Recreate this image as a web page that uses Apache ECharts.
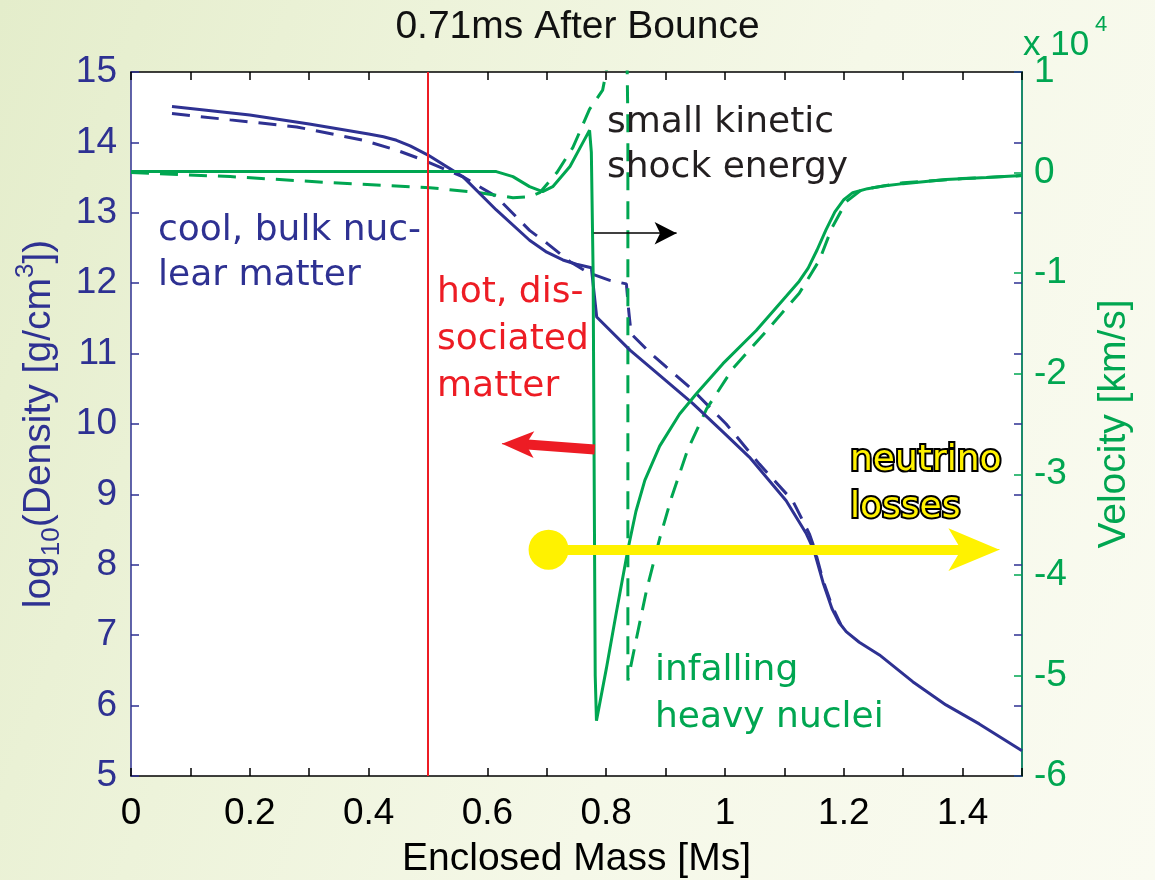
<!DOCTYPE html>
<html><head><meta charset="utf-8">
<script src="https://cdn.jsdelivr.net/npm/echarts@6/dist/echarts.min.js"></script>
<style>
html,body{margin:0;padding:0;width:1155px;height:880px;overflow:hidden;}
body{background:linear-gradient(110deg,#e4edcb 0%,#edf3da 30%,#f5f8e8 60%,#fafbf1 100%);}
#chart{width:1155px;height:880px;}
</style></head><body><div id="chart"></div>
<script>
// ---- data (mass in Msun, density log10 g/cm3, velocity in 1e4 km/s) ----
const titleText = '0.71ms After Bounce';
const xName = 'Enclosed Mass [Ms]';
const massRange = [0, 1.5];
const densityRange = [5, 15];
const velocityRange = [-6, 1];

const densitySolid = [
  [0.069,14.51],[0.2,14.39],[0.3,14.26],[0.4,14.12],[0.425,14.08],[0.447,14.03],[0.47,13.95],[0.5,13.82],
  [0.559,13.51],[0.615,13.04],[0.671,12.61],[0.7,12.44],[0.727,12.33],[0.75,12.27],[0.775,12.22],[0.784,11.52],
  [0.84,11.05],[0.9,10.62],[0.946,10.29],[1.0,9.86],[1.041,9.53],[1.103,8.91],[1.137,8.44],
  [1.15,8.2],[1.165,7.75],[1.18,7.38],[1.192,7.18],[1.204,7.05],[1.226,6.9],[1.26,6.72],
  [1.316,6.34],[1.372,6.01],[1.428,5.74],[1.5,5.36]
];
const densityDashed = [
  [0.069,14.41],[0.167,14.32],[0.279,14.22],[0.391,14.03],[0.447,13.89],[0.492,13.75],[0.559,13.51],
  [0.615,13.23],[0.671,12.75],[0.7,12.57],[0.74,12.3],[0.77,12.15],[0.806,12.04],[0.834,11.99],
  [0.838,11.6],[0.842,11.28],[0.873,11.02],[0.901,10.81],[0.946,10.48],[1.002,10.0],[1.058,9.43],
  [1.114,8.91],[1.142,8.44],[1.15,8.25],[1.165,7.78],[1.18,7.42],[1.195,7.15]
];
const velocitySolid = [
  [0,0.01],[0.2,0.01],[0.4,0.01],[0.6,0.01],[0.615,0.01],[0.643,-0.04],[0.671,-0.14],[0.693,-0.19],
  [0.71,-0.14],[0.739,0.06],[0.76,0.29],[0.772,0.42],[0.775,0.2],[0.778,-1.0],[0.7815,-5.0],
  [0.7836,-5.45],[0.8003,-4.93],[0.8172,-4.37],[0.8368,-3.74],[0.85,-3.37],[0.865,-3.06],[0.89,-2.72],
  [0.9236,-2.4],[0.9518,-2.2],[0.9965,-1.9],[1.0526,-1.57],[1.103,-1.23],[1.125,-1.08],[1.14,-0.95],
  [1.155,-0.77],[1.17,-0.57],[1.185,-0.39],[1.2,-0.27],[1.215,-0.2],[1.24,-0.16],[1.27,-0.13],[1.3,-0.11],
  [1.372,-0.07],[1.44,-0.05],[1.5,-0.03]
];
const velocityDashed = [
  [0,0.0],[0.167,-0.04],[0.335,-0.1],[0.503,-0.15],[0.587,-0.2],[0.643,-0.25],[0.671,-0.24],
  [0.688,-0.2],[0.717,0.0],[0.744,0.25],[0.772,0.63],[0.794,0.82],[0.8,1.0],[0.815,1.6],
  [0.834,1.6],[0.8365,0.5],[0.8365,-5.05],[0.851,-4.63],[0.868,-4.15],[0.89,-3.64],[0.91,-3.23],
  [0.937,-2.76],[0.969,-2.35],[1.013,-1.95],[1.069,-1.58],[1.125,-1.2],[1.159,-0.87],[1.18,-0.55],
  [1.204,-0.29],[1.23,-0.17],[1.3,-0.1],[1.4,-0.06],[1.5,-0.03]
];
// annotation anchors in data coords [mass, density]
const redLineMass = 0.5;
const shockArrow = [[0.779,12.71],[0.9185,12.71]];
const retreatShaft = [[0.7807,9.637],[0.6563,9.715]];
const retreatHead = [[0.665,9.711],[0.6245,9.72]];
const neutrinoShaft = [[0.703,8.215],[1.4096,8.215]];
const neutrinoHead = [[1.40,8.215],[1.462,8.215]];

const BLUE = '#2e3192', GREEN = '#00a651', RED = '#ed1c24', TEAL = '#1b8a6b', YELLOW = '#fff200';
const FONT = '"Liberation Sans", Arial, sans-serif';
const HAND = '"Comic Sans MS", "DejaVu Sans", sans-serif';

const chart = echarts.init(document.getElementById('chart'));
const tickFont = 37;
const nameFont = 39;
function seg(a, b, color, width, headSize) {
  return [
    { coord: a, symbol: 'none', lineStyle: { color: color, width: width, type: 'solid', cap: 'butt' } },
    { coord: b, symbol: headSize ? 'arrow' : 'none', symbolSize: headSize || 0 }
  ];
}
chart.setOption({
  backgroundColor: 'transparent',
  animation: false,
  title: { text: titleText, left: 'center', top: 3,
    textStyle: { fontSize: nameFont, fontWeight: 'normal', color: '#111', fontFamily: FONT } },
  grid: { left: 131, right: 133, top: 72, bottom: 104, containLabel: false, outerBoundsMode: 'none',
    show: true, backgroundColor: '#ffffff', borderWidth: 0 },
  xAxis: [
    { type: 'value', position: 'bottom', min: massRange[0], max: massRange[1], interval: 0.1,
      axisLine: { show: true, onZero: false, lineStyle: { color: '#000', width: 1.5 } },
      axisTick: { show: true, inside: true, length: 8, lineStyle: { color: '#000', width: 1.5 } },
      splitLine: { show: false },
      axisLabel: { interval: 0, margin: 19, color: '#000', fontSize: tickFont, fontFamily: FONT,
        formatter: v => { const k = Math.round(v * 10); return (k % 2 === 0 && k < 15) ? String(k / 10) : ''; } },
      name: xName, nameLocation: 'middle', nameGap: 64,
      nameTextStyle: { color: '#000', fontSize: nameFont, fontFamily: FONT } },
    { type: 'value', position: 'top', min: massRange[0], max: massRange[1], interval: 0.1,
      axisLine: { show: true, onZero: false, lineStyle: { color: '#000', width: 1.5 } },
      axisTick: { show: true, inside: true, length: 8, lineStyle: { color: '#000', width: 1.5 } },
      axisLabel: { show: false }, splitLine: { show: false } }
  ],
  yAxis: [
    { type: 'value', position: 'left', min: densityRange[0], max: densityRange[1], interval: 1,
      axisLine: { show: true, onZero: false, lineStyle: { color: BLUE, width: 1.5 } },
      axisTick: { show: true, inside: true, length: 8, lineStyle: { color: BLUE, width: 1.5 } },
      splitLine: { show: false },
      axisLabel: { margin: 14, color: BLUE, fontSize: tickFont, fontFamily: FONT },
      name: '{a|log}{s|10}{a|(Density [g/cm}{p|3}{a|])}', nameLocation: 'middle', nameRotate: 90, nameGap: 47,
      nameTextStyle: { color: BLUE, fontFamily: FONT,
        rich: { a: { fontSize: nameFont, lineHeight: 52, color: BLUE, fontFamily: FONT },
                s: { fontSize: 26, lineHeight: 26, verticalAlign: 'bottom', color: BLUE, fontFamily: FONT },
                p: { fontSize: 26, lineHeight: 26, verticalAlign: 'top', color: BLUE, fontFamily: FONT } } } },
    { type: 'value', position: 'right', min: velocityRange[0], max: velocityRange[1], interval: 1,
      axisLine: { show: true, onZero: false, lineStyle: { color: TEAL, width: 2 } },
      axisTick: { show: true, inside: true, length: 8, lineStyle: { color: GREEN, width: 1.5 } },
      splitLine: { show: false },
      axisLabel: { margin: 12, color: GREEN, fontSize: tickFont, fontFamily: FONT },
      name: 'Velocity [km/s]', nameLocation: 'middle', nameRotate: 90, nameGap: 73,
      nameTextStyle: { color: GREEN, fontSize: nameFont, fontFamily: FONT } },
    { type: 'value', position: 'right', min: densityRange[0], max: densityRange[1], interval: 1,
      axisLine: { show: false, onZero: false }, axisLabel: { show: false }, splitLine: { show: false },
      axisTick: { show: true, inside: true, length: 8, lineStyle: { color: BLUE, width: 1.5 } } }
  ],
  series: [
    { name: 'density', type: 'line', xAxisIndex: 0, yAxisIndex: 0, data: densitySolid, showSymbol: false,
      lineStyle: { color: BLUE, width: 3 }, z: 3,
      markLine: { silent: true, symbol: ['none', 'none'], label: { show: false },
        emphasis: { disabled: true }, animation: false,
        data: [
          [{ coord: [redLineMass, densityRange[0]], symbol: 'none', lineStyle: { color: RED, width: 2, type: 'solid' } },
           { coord: [redLineMass, densityRange[1]], symbol: 'none' }],
          seg(shockArrow[0], shockArrow[1], '#000', 1.6, [17, 22]),
          seg(retreatShaft[0], retreatShaft[1], RED, 10, null),
          seg(retreatHead[0], retreatHead[1], RED, 1, [20, 32]),
          [{ coord: neutrinoShaft[0], symbol: 'circle', symbolSize: 40, lineStyle: { color: YELLOW, width: 10, type: 'solid', cap: 'butt' } },
           { coord: neutrinoShaft[1], symbol: 'none' }],
          seg(neutrinoHead[0], neutrinoHead[1], YELLOW, 1, [32, 51])
        ] } },
    { name: 'density dashed', type: 'line', xAxisIndex: 0, yAxisIndex: 0, data: densityDashed, showSymbol: false,
      lineStyle: { color: BLUE, width: 3, type: [18, 11] }, z: 2 },
    { name: 'velocity', type: 'line', xAxisIndex: 0, yAxisIndex: 1, data: velocitySolid, showSymbol: false,
      lineStyle: { color: GREEN, width: 3 }, z: 4 },
    { name: 'velocity dashed', type: 'line', xAxisIndex: 0, yAxisIndex: 1, data: velocityDashed, showSymbol: false,
      lineStyle: { color: GREEN, width: 3, type: [18, 11] }, z: 2 }
  ],
  graphic: [
    { type: 'text', x: 1023, y: 28, style: { text: 'x 10', fill: GREEN, fontSize: 35, fontFamily: FONT } },
    { type: 'text', x: 1095, y: 14, style: { text: '4', fill: GREEN, fontSize: 22, fontFamily: FONT } },
    { type: 'text', x: 158, y: 208, z: 10, style: { text: 'cool, bulk nuc-\nlear matter', fill: BLUE, fontSize: 36, lineHeight: 45, fontFamily: HAND } },
    { type: 'text', x: 437, y: 269, z: 10, style: { text: 'hot, dis-\nsociated\nmatter', fill: RED, fontSize: 36, lineHeight: 47, fontFamily: HAND } },
    { type: 'text', x: 607, y: 100, z: 10, style: { text: 'small kinetic\nshock energy', fill: '#231f20', fontSize: 36, lineHeight: 45, fontFamily: HAND } },
    { type: 'text', x: 850, y: 437, z: 10, style: { text: 'neutrino\nlosses', fill: YELLOW, stroke: '#000', lineWidth: 4, fontSize: 36, lineHeight: 47, fontFamily: HAND } },
    { type: 'text', x: 655, y: 647, z: 10, style: { text: 'infalling\nheavy nuclei', fill: GREEN, fontSize: 36, lineHeight: 47, fontFamily: HAND } }
  ]
});
</script></body></html>
